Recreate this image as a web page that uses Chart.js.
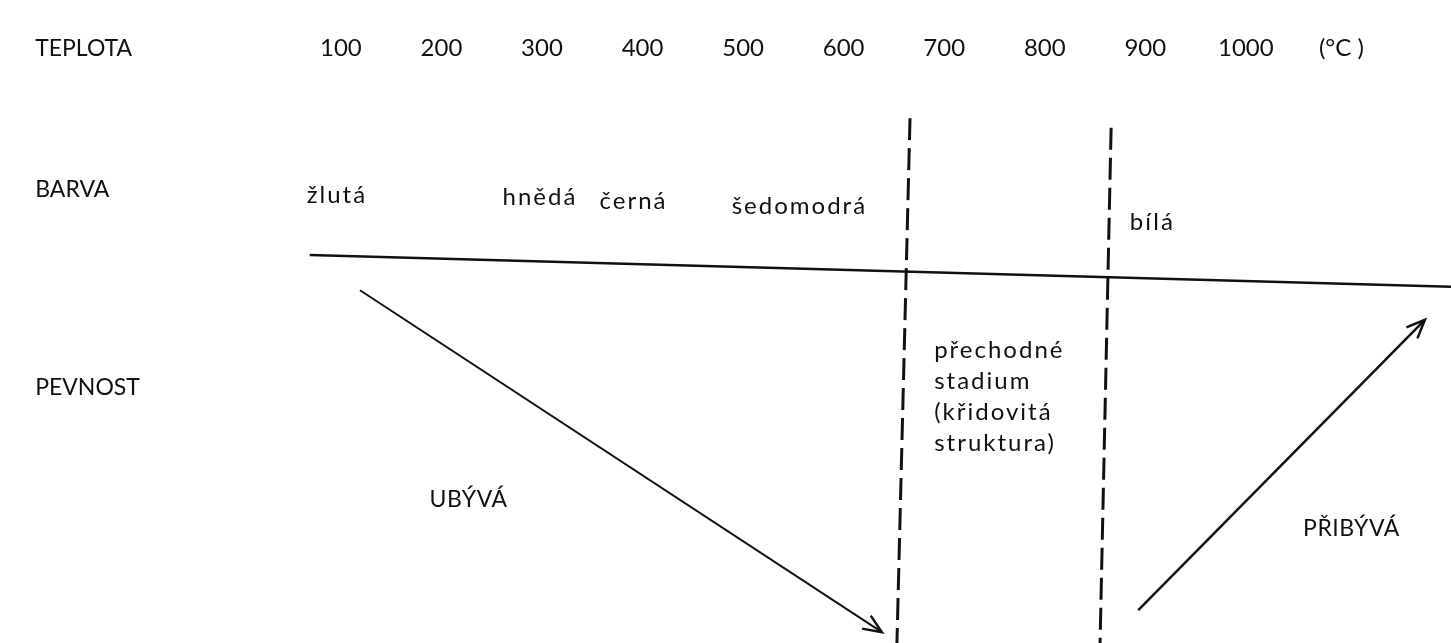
<!DOCTYPE html>
<html>
<head>
<meta charset="utf-8">
<script src="https://cdn.jsdelivr.net/npm/chart.js@4.4.1/dist/chart.umd.min.js"></script>
<style>
  html, body { margin: 0; padding: 0; background: #fff; }
  #wrap { width: 1451px; height: 643px; }
</style>
</head>
<body>
<div id="wrap"><canvas id="diagramChart"></canvas></div>
<script>
// osa x = teplota (°C), osa y = relativni vyska 0-100
const tickValues = [100, 200, 300, 400, 500, 600, 700, 800, 900, 1000];
const unitTick = 1095;
const unitLabel = '(°C )';

const baseLine = [{x: 69, y: 68.3}, {x: 1204, y: 62.7}];
const boundary1 = [{x: 666, y: 92.4}, {x: 653, y: 0}];
const boundary2 = [{x: 866, y: 90.7}, {x: 855, y: 0}];
const decrease = [{x: 119, y: 62.1}, {x: 638, y: 1.9}];
const increase = [{x: 893, y: 5.8}, {x: 1178, y: 56.9}];

const rowLabels = ['TEPLOTA', 'BARVA', 'PEVNOST'];
const rowLabelY = [104.6, 79.8, 44.9];
const rowLabelX = -204;

const colourNames = ['žlutá', 'hnědá', 'černá', 'šedomodrá', 'bílá'];
const colourTemps = [96, 298, 391, 556, 907];
const colourY = [78.9, 78.5, 77.8, 76.9, 74.1];

const transitionLines = ['přechodné', 'stadium', '(křidovitá', 'struktura)'];
const transitionX = 690;
const transitionY = [51.6, 46.1, 40.7, 35.2];

const strengthNames = ['UBÝVÁ', 'PŘIBÝVÁ'];
const strengthTemps = [227, 1105];
const strengthY = [25.2, 20.1];

const ink = '#111';
const fontFamily = 'Lato, "Open Sans", sans-serif';

function lineSet(data, extra) {
    return Object.assign({
        data: data,
        showLine: true,
        borderColor: ink,
        borderWidth: 2.5,
        pointRadius: 0,
        tension: 0,
        fill: false
    }, extra || {});
}

const arrowPlugin = {
    id: 'arrows',
    afterDatasetsDraw(chart) {
        const ctx = chart.ctx;
        chart.data.datasets.forEach((ds, i) => {
            if (!ds.arrow) return;
            const pts = chart.getDatasetMeta(i).data;
            const a = pts[pts.length - 2], b = pts[pts.length - 1];
            const ang = Math.atan2(b.y - a.y, b.x - a.x);
            const len = 20;
            ctx.save();
            ctx.strokeStyle = ink;
            ctx.lineWidth = 2.5;
            ctx.beginPath();
            ctx.moveTo(b.x - len * Math.cos(ang - 0.4), b.y - len * Math.sin(ang - 0.4));
            ctx.lineTo(b.x, b.y);
            ctx.lineTo(b.x - len * Math.cos(ang + 0.4), b.y - len * Math.sin(ang + 0.4));
            ctx.stroke();
            ctx.restore();
        });
    }
};

const textPlugin = {
    id: 'texts',
    afterDraw(chart) {
        const ctx = chart.ctx;
        const xs = chart.scales.x, ys = chart.scales.y;
        const put = (txt, x, y, align) => {
            ctx.textAlign = align;
            ctx.fillText(txt, xs.getPixelForValue(x), ys.getPixelForValue(y));
        };
        ctx.save();
        ctx.fillStyle = ink;
        ctx.textBaseline = 'middle';
        ctx.font = '23px ' + fontFamily;
        ctx.letterSpacing = '0px';
        rowLabels.forEach((t, i) => put(t, rowLabelX, rowLabelY[i], 'left'));
        ctx.letterSpacing = '0.5px';
        strengthNames.forEach((t, i) => put(t, strengthTemps[i], strengthY[i], 'center'));
        ctx.font = '24px ' + fontFamily;
        ctx.letterSpacing = '2px';
        colourNames.forEach((t, i) => put(t, colourTemps[i], colourY[i], 'center'));
        transitionLines.forEach((t, i) => put(t, transitionX, transitionY[i], 'left'));
        ctx.restore();
    }
};

const ctx = document.getElementById('diagramChart').getContext('2d');
const diagramChart = new Chart(ctx, {
    type: 'scatter',
    data: {
        datasets: [
            lineSet(baseLine),
            lineSet(boundary1, {borderDash: [22, 8], borderWidth: 3}),
            lineSet(boundary2, {borderDash: [22, 8], borderWidth: 3}),
            lineSet(decrease, {arrow: true, borderWidth: 2}),
            lineSet(increase, {arrow: true, borderWidth: 2.5})
        ]
    },
    options: {
        responsive: true,
        maintainAspectRatio: false,
        animation: false,
        layout: { padding: 0 },
        plugins: {
            legend: { display: false },
            tooltip: { enabled: false }
        },
        scales: {
            x: {
                type: 'linear',
                position: 'top',
                min: -239,
                max: 1204,
                grid: { display: false, drawTicks: false },
                border: { display: false },
                afterBuildTicks: s => {
                    s.ticks = tickValues.concat([unitTick]).map(v => ({ value: v }));
                },
                afterFit: s => { s.height = 75; },
                ticks: {
                    autoSkip: false,
                    maxRotation: 0,
                    padding: 12,
                    color: ink,
                    font: { family: fontFamily, size: 24 },
                    callback: v => v === unitTick ? unitLabel : String(v)
                }
            },
            y: { display: false, min: 0, max: 100 }
        }
    },
    plugins: [arrowPlugin, textPlugin]
});
</script>
</body>
</html>
